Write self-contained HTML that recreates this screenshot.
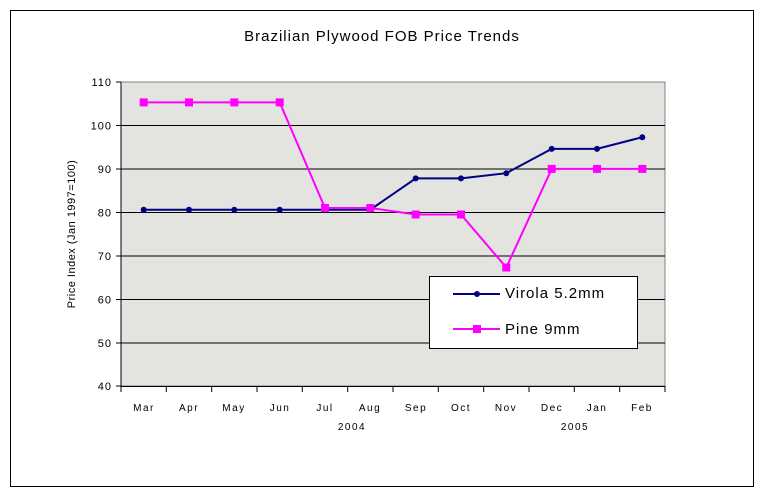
<!DOCTYPE html>
<html><head><style>body{margin:0;background:#fff}svg{display:block}text{font-family:"Liberation Sans",sans-serif}</style></head><body>
<svg width="764" height="497" xmlns="http://www.w3.org/2000/svg">
<rect x="10.5" y="10.5" width="743" height="476" fill="#fff" stroke="#000"/>
<text x="382" y="41" font-size="15" text-anchor="middle" letter-spacing="1">Brazilian Plywood FOB Price Trends</text>
<rect x="121" y="82" width="544" height="304" fill="#e3e3e0" stroke="#808080"/>
<g stroke="#000" stroke-width="1">
<line x1="121" y1="125.5" x2="665" y2="125.5"/><line x1="121" y1="169" x2="665" y2="169"/><line x1="121" y1="212.5" x2="665" y2="212.5"/><line x1="121" y1="256" x2="665" y2="256"/><line x1="121" y1="299.5" x2="665" y2="299.5"/><line x1="121" y1="343" x2="665" y2="343"/>
<line x1="121" y1="82" x2="121" y2="386"/><line x1="121" y1="386.5" x2="665" y2="386.5"/>
<line x1="116" y1="82" x2="121" y2="82"/><line x1="116" y1="125.5" x2="121" y2="125.5"/><line x1="116" y1="169" x2="121" y2="169"/><line x1="116" y1="212.5" x2="121" y2="212.5"/><line x1="116" y1="256" x2="121" y2="256"/><line x1="116" y1="299.5" x2="121" y2="299.5"/><line x1="116" y1="343" x2="121" y2="343"/><line x1="116" y1="386" x2="121" y2="386"/>
<path d="M121 386v6M166.3 386v6M211.7 386v6M257 386v6M302.3 386v6M347.7 386v6M393 386v6M438.3 386v6M483.7 386v6M529 386v6M574.3 386v6M619.7 386v6M665 386v6"/>
</g>
<g font-size="11" text-anchor="end" letter-spacing="1">
<text x="112" y="86">110</text><text x="112" y="129.5">100</text><text x="112" y="173">90</text><text x="112" y="216.5">80</text><text x="112" y="260">70</text><text x="112" y="303.5">60</text><text x="112" y="347">50</text><text x="112" y="390">40</text>
</g>
<text transform="translate(75,234) rotate(-90)" font-size="11" text-anchor="middle" letter-spacing="0.5">Price Index (Jan 1997=100)</text>
<g font-size="10" text-anchor="middle" letter-spacing="1.5">
<text x="144" y="411">Mar</text><text x="189" y="411">Apr</text><text x="234" y="411">May</text><text x="280" y="411">Jun</text><text x="325" y="411">Jul</text><text x="370" y="411">Aug</text><text x="416" y="411">Sep</text><text x="461" y="411">Oct</text><text x="506" y="411">Nov</text><text x="552" y="411">Dec</text><text x="597" y="411">Jan</text><text x="642" y="411">Feb</text>
<text x="352" y="430">2004</text><text x="575" y="430">2005</text>
</g>
<polyline fill="none" stroke="#000080" stroke-width="2" points="143.7,209.7 189,209.7 234.3,209.7 279.7,209.7 325,209.7 370.3,209.7 415.7,178.4 461,178.4 506.3,173.2 551.7,148.9 597,148.9 642.3,137.2"/>
<g fill="#000080">
<circle cx="143.7" cy="209.7" r="3"/><circle cx="189" cy="209.7" r="3"/><circle cx="234.3" cy="209.7" r="3"/><circle cx="279.7" cy="209.7" r="3"/><circle cx="325" cy="209.7" r="3"/><circle cx="370.3" cy="209.7" r="3"/><circle cx="415.7" cy="178.4" r="3"/><circle cx="461" cy="178.4" r="3"/><circle cx="506.3" cy="173.2" r="3"/><circle cx="551.7" cy="148.9" r="3"/><circle cx="597" cy="148.9" r="3"/><circle cx="642.3" cy="137.2" r="3"/>
</g>
<polyline fill="none" stroke="#ff00ff" stroke-width="2" points="143.7,102.4 189,102.4 234.3,102.4 279.7,102.4 325,208 370.3,208 415.7,214.5 461,214.5 506.3,267.5 551.7,168.9 597,168.9 642.3,168.9"/>
<g fill="#ff00ff">
<rect x="139.7" y="98.4" width="8" height="8"/><rect x="185" y="98.4" width="8" height="8"/><rect x="230.3" y="98.4" width="8" height="8"/><rect x="275.7" y="98.4" width="8" height="8"/><rect x="321" y="204" width="8" height="8"/><rect x="366.3" y="204" width="8" height="8"/><rect x="411.7" y="210.5" width="8" height="8"/><rect x="457" y="210.5" width="8" height="8"/><rect x="502.3" y="263.5" width="8" height="8"/><rect x="547.7" y="164.9" width="8" height="8"/><rect x="593" y="164.9" width="8" height="8"/><rect x="638.3" y="164.9" width="8" height="8"/>
</g>
<rect x="429.5" y="276.5" width="208" height="72" fill="#fff" stroke="#000"/>
<line x1="453" y1="294" x2="500" y2="294" stroke="#000080" stroke-width="2"/><circle cx="477" cy="294" r="3" fill="#000080"/>
<line x1="453" y1="329" x2="500" y2="329" stroke="#ff00ff" stroke-width="2"/><rect x="473" y="325" width="8" height="8" fill="#ff00ff"/>
<g font-size="15" letter-spacing="1"><text x="505" y="298">Virola 5.2mm</text><text x="505" y="334">Pine 9mm</text></g>
</svg>
</body></html>
